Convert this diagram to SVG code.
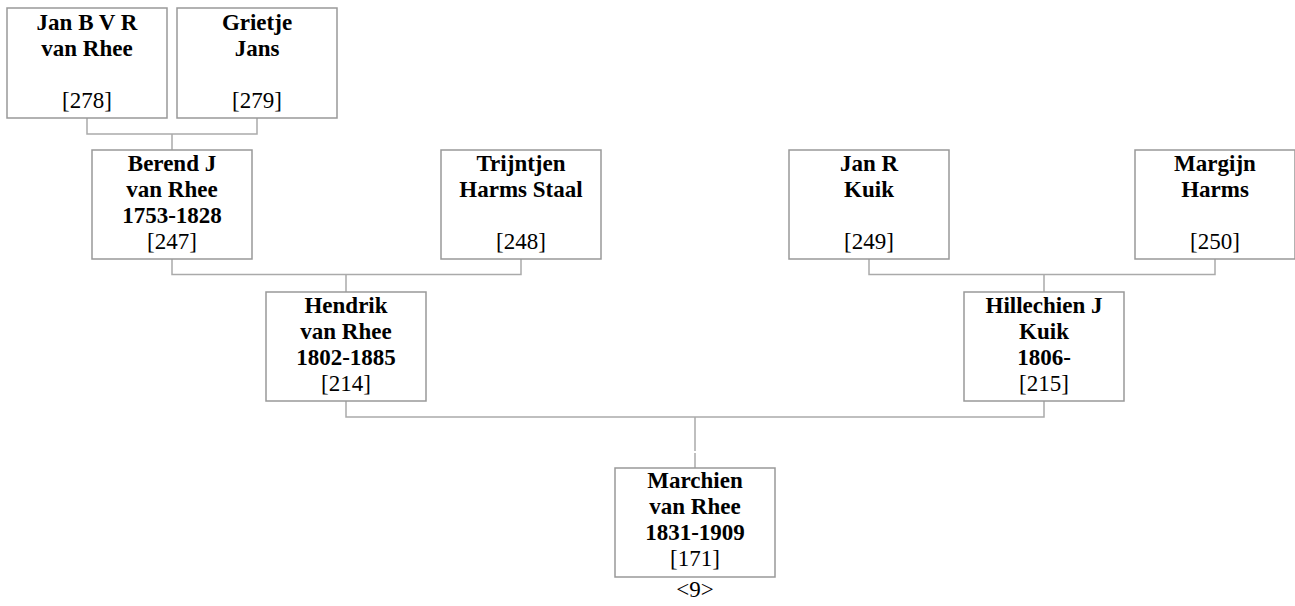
<svg xmlns="http://www.w3.org/2000/svg" width="1295" height="606" viewBox="0 0 1295 606">
<style>
.box{fill:#fff;stroke:#999;stroke-width:1.5}
.ln{fill:none;stroke:#aaa;stroke-width:1.5}
text{font-family:'Liberation Serif','Times New Roman',Times,serif;font-size:23px;fill:#000;text-anchor:middle}
.n{font-weight:bold}
</style>
<rect width="1295" height="606" fill="#fff"/>
<g id="connectors">
<polyline class="ln" points="87,118 87,134 257,134 257,118"/>
<line class="ln" x1="172" y1="134" x2="172" y2="150"/>
<polyline class="ln" points="172,259 172,274.5 521,274.5 521,259"/>
<line class="ln" x1="346" y1="274.5" x2="346" y2="292"/>
<polyline class="ln" points="869,259 869,274.5 1215,274.5 1215,259"/>
<line class="ln" x1="1044" y1="274.5" x2="1044" y2="292"/>
<polyline class="ln" points="346,401 346,417 1044,417 1044,401"/>
<line class="ln" x1="695" y1="417" x2="695" y2="451"/>
<line class="ln" x1="695" y1="453" x2="695" y2="468"/>
</g>
<g id="p278">
<rect class="box" x="7" y="8" width="160" height="110"/>
<text class="n" x="87" y="30">Jan B V R</text>
<text class="n" x="87" y="56">van Rhee</text>
<text x="87" y="108">[278]</text>
</g>
<g id="p279">
<rect class="box" x="177" y="8" width="160" height="110"/>
<text class="n" x="257" y="30">Grietje</text>
<text class="n" x="257" y="56">Jans</text>
<text x="257" y="108">[279]</text>
</g>
<g id="p247">
<rect class="box" x="92" y="150" width="160" height="109"/>
<text class="n" x="172" y="171">Berend J</text>
<text class="n" x="172" y="197">van Rhee</text>
<text class="n" x="172" y="223">1753-1828</text>
<text x="172" y="249">[247]</text>
</g>
<g id="p248">
<rect class="box" x="441" y="150" width="160" height="109"/>
<text class="n" x="521" y="171">Trijntjen</text>
<text class="n" x="521" y="197">Harms Staal</text>
<text x="521" y="249">[248]</text>
</g>
<g id="p249">
<rect class="box" x="789" y="150" width="160" height="109"/>
<text class="n" x="869" y="171">Jan R</text>
<text class="n" x="869" y="197">Kuik</text>
<text x="869" y="249">[249]</text>
</g>
<g id="p250">
<rect class="box" x="1135" y="150" width="160" height="109"/>
<text class="n" x="1215" y="171">Margijn</text>
<text class="n" x="1215" y="197">Harms</text>
<text x="1215" y="249">[250]</text>
</g>
<g id="p214">
<rect class="box" x="266" y="292" width="160" height="109"/>
<text class="n" x="346" y="313">Hendrik</text>
<text class="n" x="346" y="339">van Rhee</text>
<text class="n" x="346" y="365">1802-1885</text>
<text x="346" y="391">[214]</text>
</g>
<g id="p215">
<rect class="box" x="964" y="292" width="160" height="109"/>
<text class="n" x="1044" y="313">Hillechien J</text>
<text class="n" x="1044" y="339">Kuik</text>
<text class="n" x="1044" y="365">1806-</text>
<text x="1044" y="391">[215]</text>
</g>
<g id="p171">
<rect class="box" x="615" y="468" width="160" height="109"/>
<text class="n" x="695" y="488">Marchien</text>
<text class="n" x="695" y="514">van Rhee</text>
<text class="n" x="695" y="540">1831-1909</text>
<text x="695" y="566">[171]</text>
<text x="695" y="597">&lt;9&gt;</text>
</g>
</svg>
